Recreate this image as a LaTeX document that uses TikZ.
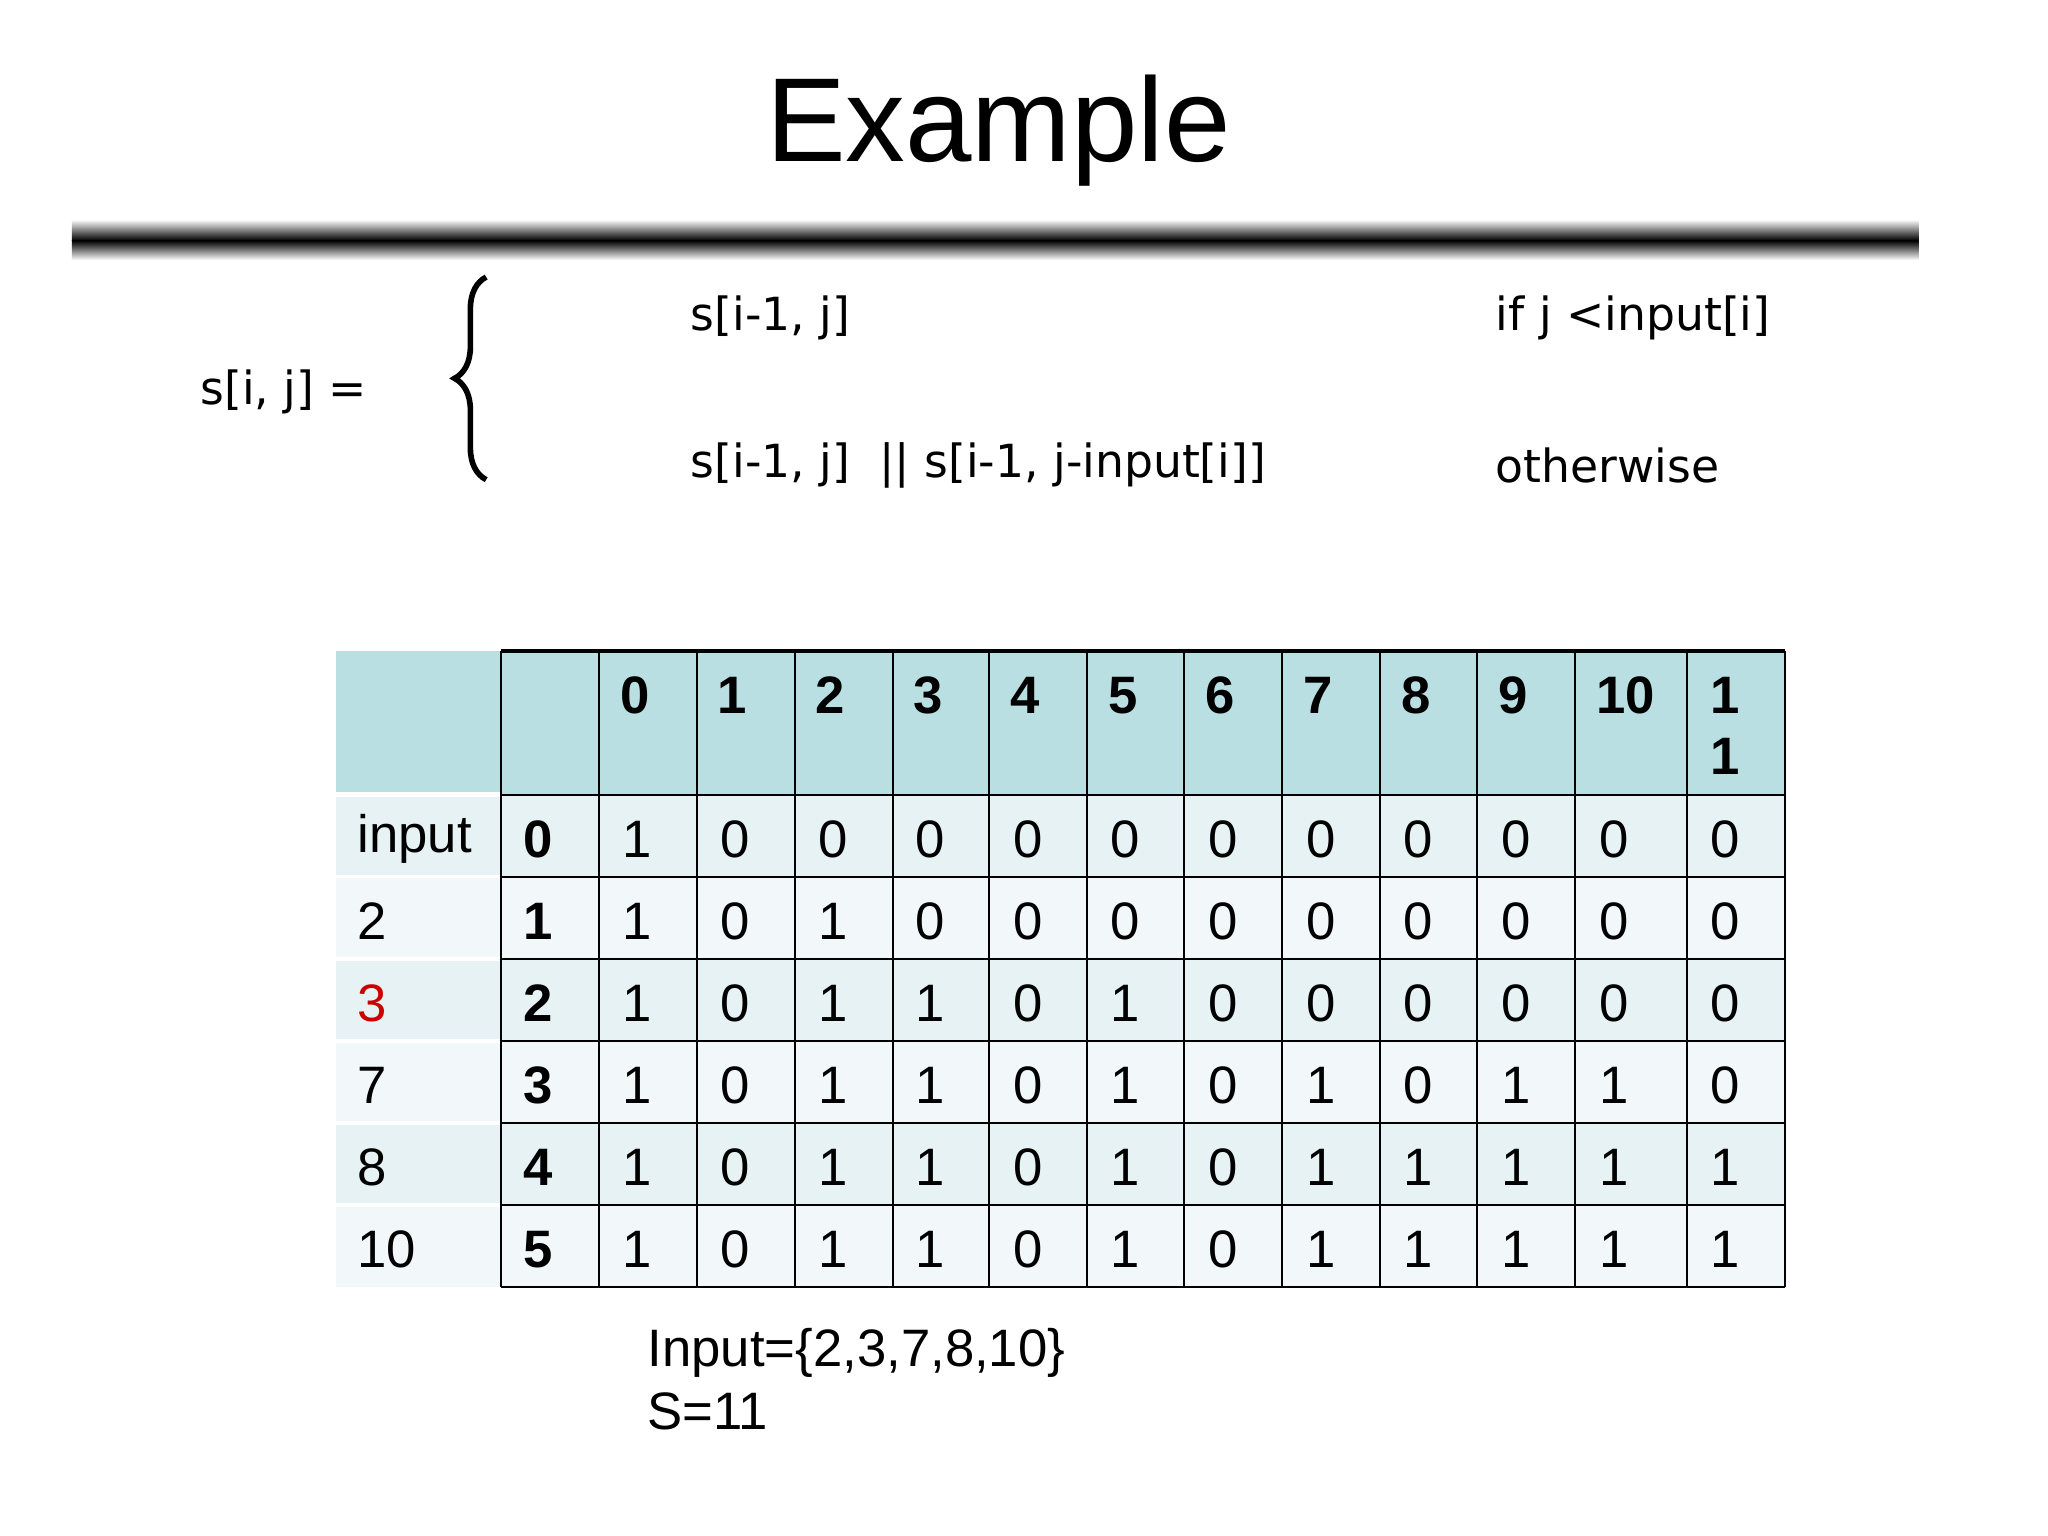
\documentclass[tikz,border=0pt]{standalone}
\usepackage{fontspec}
\setmainfont{Liberation Sans}
\newfontfamily\formfont{DejaVu Sans}
\usetikzlibrary{positioning, decorations.pathreplacing}

\definecolor{headcyan}{HTML}{B9DFE2}
\definecolor{rowdark}{HTML}{E6F2F3}
\definecolor{rowlight}{HTML}{F2F8F9}

\tikzset{
  cell/.style={anchor=west, inner sep=0pt, font=\fontsize{15}{17}\selectfont},
  bcell/.style={cell, font=\fontsize{15}{17}\selectfont\bfseries},
  formula/.style={anchor=west, inner sep=0pt, font=\formfont\fontsize{13}{15}\selectfont}
}

\begin{document}
\begin{tikzpicture}[x=0.013072cm, y=-0.013072cm]
  \useasboundingbox (0,0) rectangle (1567,1175);

% title and bar
  \node (title) at (764,100) {\fontsize{34}{38}\selectfont Example};
  \shade[top color=white, bottom color=black] (55,168) rectangle (1468,184);
  \shade[top color=black, bottom color=white] (55,184) rectangle (1468,199);

% the recurrence
  \node[formula] (lhs)  at (153,300) {s[i, j] =};
  \node[formula] (c1)   at (528,243) {s[i-1, j]};
  \node[formula] (c2)   at (528,356) {s[i-1, j]\ \ || s[i-1, j-input[i]]};
  \node[formula] (k1)   at (1144,243) {if j <input[i]};
  \node[formula] (k2)   at (1144,356) {otherwise};
  \draw[line width=1.6pt, decorate, decoration={brace, amplitude=9pt}]
    (372,367) -- (372,212);

% table backgrounds
  \fill[headcyan] (257,498) rectangle (1366,608);
  \foreach \r in {0,...,5} {
    \pgfmathsetmacro{\ytop}{608+\r*62.8}
    \pgfmathsetmacro{\ybot}{\ytop+62.8}
    \ifodd\r \def\rc{rowlight}\else \def\rc{rowdark}\fi
    \fill[\rc] (257,\ytop) rectangle (1366,\ybot);
  }
  \draw[white, line width=1.5pt] (257,608) -- (383,608);
  \foreach \r in {1,...,5}
    \draw[white, line width=1pt] (257,608+\r*62.8) -- (383,608+\r*62.8);

% grid
  \foreach \xx in {383,458,533,608,683,757,832,906,981,1056,1130,1205,1291,1366}
    \draw[line width=0.6pt] (\xx,498) -- (\xx,985);
  \draw[line width=1pt] (383,498) -- (1366,498);
  \foreach \r in {0,...,6}
    \draw[line width=0.6pt] (383,608+\r*62.8) -- (1366,608+\r*62.8);

% header
  \foreach \v [count=\c from 0] in {0,1,2,3,4,5,6,7,8,9,10}
    \node[bcell] (h\c) at ({474+\c*74.7},532) {\v};
  \node[bcell] (h11a) at (1308,532) {1};
  \node[bcell] (h11b) at (1308,579) {1};

% row labels
  \foreach \lab [count=\r from 0] in {input,2,{\color{red!80!black}3},7,8,10} {
    \node[cell] (lab\r) at (273,{642+\r*62.8}) {\lab};
    \node[bcell] (idx\r) at (400,{642+\r*62.8}) {\r};
  }

% values
  \foreach \row [count=\r from 0] in {
      {1,0,0,0,0,0,0,0,0,0,0,0},
      {1,0,1,0,0,0,0,0,0,0,0,0},
      {1,0,1,1,0,1,0,0,0,0,0,0},
      {1,0,1,1,0,1,0,1,0,1,1,0},
      {1,0,1,1,0,1,0,1,1,1,1,1},
      {1,0,1,1,0,1,0,1,1,1,1,1}} {
    \foreach \v [count=\c from 0] in \row {
      \ifnum\c<11
        \node[cell] (v\r-\c) at ({476+\c*74.7},{642+\r*62.8}) {\v};
      \else
        \node[cell] (v\r-\c) at (1308,{642+\r*62.8}) {\v};
      \fi
    }
  }

% footnote
  \node[cell, anchor=north west] (inp) at (495,1016) {Input=\{2,3,7,8,10\}};
  \node[cell] (ssum) [below=4pt of inp.south west, anchor=north west] {S=11};
\end{tikzpicture}
\end{document}
